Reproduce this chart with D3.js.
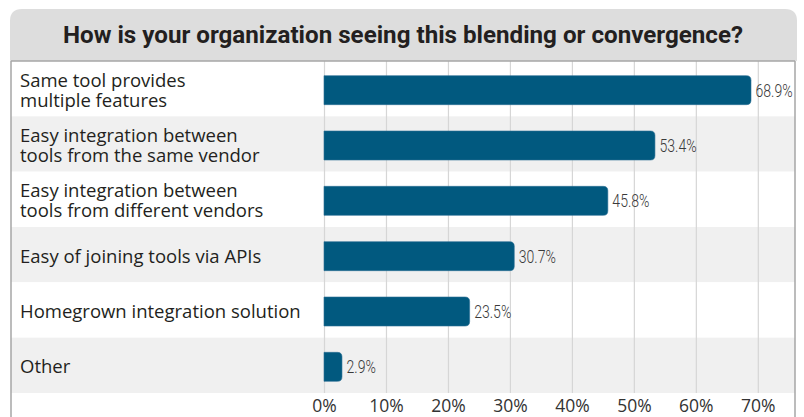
<!DOCTYPE html>
<html>
<head>
<meta charset="utf-8">
<script src="https://cdn.jsdelivr.net/npm/d3@7"></script>
<style>
  html, body { margin: 0; padding: 0; background: #ffffff; }
  svg { display: block; }
</style>
</head>
<body>
<svg id="chart" width="804" height="417"></svg>
<script>
// Survey responses: how organizations see tools blending / converging
const titleText = "How is your organization seeing this blending or convergence?";
const categories = [
  ["Same tool provides", "multiple features"],
  ["Easy integration between", "tools from the same vendor"],
  ["Easy integration between", "tools from different vendors"],
  ["Easy of joining tools via APIs"],
  ["Homegrown integration solution"],
  ["Other"]
];
const values = [68.9, 53.4, 45.8, 30.7, 23.5, 2.9];
const tickValues = [0, 10, 20, 30, 40, 50, 60, 70];

const W = 804, H = 417;
const frameLeft = 11, frameRight = 795;
const plotTop = 61, plotBottom = 393;
const labelX = 20;

const svg = d3.select("#chart");

const x = d3.scaleLinear().domain([0, 76]).range([324, frameRight]);
const y = d3.scaleBand()
  .domain(d3.range(categories.length))
  .range([plotTop, plotBottom])
  .paddingInner(0).paddingOuter(0);

const barH = 29;
const barColor = "#01597f";

// Squeeze a text horizontally to imitate a condensed typeface
function condense(sel, factor) {
  sel.each(function () {
    const len = this.getComputedTextLength();
    d3.select(this)
      .attr("textLength", len * factor)
      .attr("lengthAdjust", "spacingAndGlyphs");
  });
}

// Title header with rounded top corners
const hdrTop = 9, hdrR = 12;
svg.append("path")
  .attr("d", `M${frameLeft - 1},${plotTop} L${frameLeft - 1},${hdrTop + hdrR} Q${frameLeft - 1},${hdrTop} ${frameLeft - 1 + hdrR},${hdrTop}
              L${frameRight + 2 - hdrR},${hdrTop} Q${frameRight + 2},${hdrTop} ${frameRight + 2},${hdrTop + hdrR} L${frameRight + 2},${plotTop} Z`)
  .attr("fill", "#dddddd");

const title = svg.append("text")
  .attr("x", 403)
  .attr("y", 42.5)
  .attr("text-anchor", "middle")
  .attr("font-family", "Roboto, 'Open Sans', sans-serif")
  .attr("font-weight", "bold")
  .attr("font-size", 23.5)
  .attr("fill", "#231f20")
  .text(titleText);
title.each(function () {
  const len = this.getComputedTextLength();
  d3.select(this).attr("textLength", 680).attr("lengthAdjust", "spacingAndGlyphs");
});

// Alternating row backgrounds
svg.append("g").selectAll("rect")
  .data(categories)
  .join("rect")
  .attr("x", frameLeft)
  .attr("y", (d, i) => y(i))
  .attr("width", frameRight - frameLeft)
  .attr("height", y.bandwidth())
  .attr("fill", (d, i) => i % 2 ? "#f0f0f0" : "#ffffff");

// Vertical gridlines from the x axis
const xAxis = d3.axisBottom(x)
  .tickValues(tickValues)
  .tickFormat(d => d + "%")
  .tickSize(plotBottom - plotTop)
  .tickPadding(4);

const gx = svg.append("g")
  .attr("transform", `translate(0,${plotTop})`)
  .call(xAxis);
gx.select(".domain").remove();
gx.selectAll(".tick line").attr("stroke", "#d6d6d6").attr("stroke-width", 1.2);
gx.selectAll(".tick text")
  .attr("font-family", "'Open Sans', 'Noto Sans', sans-serif")
  .attr("font-size", 17.5)
  .attr("fill", "#333333")
  .attr("dy", null)
  .attr("y", 411.5 - plotTop);

// Frame: top line and side lines
svg.append("line").attr("x1", frameLeft).attr("x2", frameRight).attr("y1", plotTop).attr("y2", plotTop)
  .attr("stroke", "#a6a6a6").attr("stroke-width", 1.5);
svg.append("line").attr("x1", frameLeft).attr("x2", frameLeft).attr("y1", plotTop).attr("y2", H)
  .attr("stroke", "#a6a6a6").attr("stroke-width", 1.5);
svg.append("line").attr("x1", frameRight).attr("x2", frameRight).attr("y1", plotTop).attr("y2", H)
  .attr("stroke", "#a6a6a6").attr("stroke-width", 1.5);

// Bars: square at the baseline, rounded at the end
const r = 4.5;
const barCenter = i => y(i) + y.bandwidth() / 2 + 1.5;
svg.append("g").selectAll("path")
  .data(values)
  .join("path")
  .attr("d", (v, i) => {
    const x0 = x(0), x1 = x(v);
    const yc = barCenter(i);
    const y0 = yc - barH / 2, y1 = yc + barH / 2;
    const rr = Math.min(r, (x1 - x0) / 2);
    return `M${x0},${y0} L${x1 - rr},${y0} Q${x1},${y0} ${x1},${y0 + rr} L${x1},${y1 - rr} Q${x1},${y1} ${x1 - rr},${y1} L${x0},${y1} Z`;
  })
  .attr("fill", barColor)
  .attr("stroke", "#2c6f93")
  .attr("stroke-width", 0.6);

// Value labels (condensed, light)
svg.append("g").selectAll("text")
  .data(values)
  .join("text")
  .attr("x", v => x(v) + 4.5)
  .attr("y", (v, i) => barCenter(i) + 6.5)
  .attr("font-family", "Roboto, 'Open Sans', sans-serif")
  .attr("font-weight", 300)
  .attr("font-size", 18.5)
  .attr("fill", "#3a3a3a")
  .text(v => v.toFixed(1) + "%")
  .call(condense, 0.76);

// Category labels (one or two lines)
const lineGap = 20;
svg.append("g").selectAll("text")
  .data(categories)
  .join("text")
  .attr("font-family", "'Open Sans', 'Noto Sans', sans-serif")
  .attr("font-size", 18.5)
  .attr("fill", "#231f20")
  .each(function (lines, i) {
    const yc = barCenter(i);
    const first = yc + 6.5 - (lines.length - 1) * lineGap / 2;
    d3.select(this).selectAll("tspan")
      .data(lines)
      .join("tspan")
      .attr("x", labelX)
      .attr("y", (d, k) => first + k * lineGap)
      .text(d => d);
  });
</script>
</body>
</html>
